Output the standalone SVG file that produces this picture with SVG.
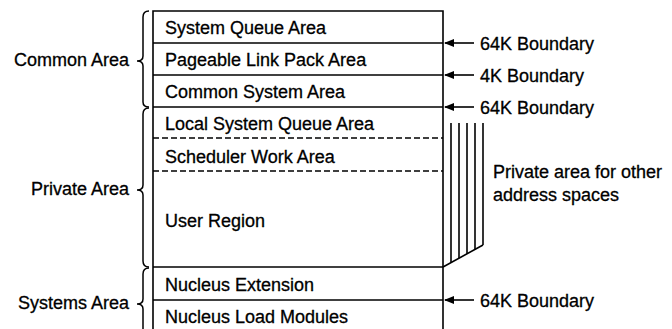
<svg xmlns="http://www.w3.org/2000/svg" width="672" height="329" viewBox="0 0 672 329">
<defs>
<style>
text{font-family:"Liberation Sans",Arial,sans-serif;font-size:18px;fill:#000;stroke:#000;stroke-width:0.3}
.ln{stroke:#000;stroke-width:1.6;fill:none}
.dash{stroke:#000;stroke-width:1.4;stroke-dasharray:6 3;fill:none}
.brace{stroke:#000;stroke-width:1.5;fill:none}
.end{text-anchor:end}
</style>
<marker id="ah" viewBox="0 0 10 8" refX="9" refY="4" markerWidth="10" markerHeight="8" markerUnits="userSpaceOnUse" orient="auto">
<path d="M0,0 L10,4 L0,8 z" fill="#000"/>
</marker>
</defs>
<rect width="672" height="329" fill="#fff"/>

<g id="box">
<path class="ln" d="M153,335 V11 H443 V335"/>
</g>
<g id="sqa"><line class="ln" x1="153" y1="43" x2="443" y2="43"/><text x="165" y="34">System Queue Area</text></g>
<g id="plpa"><line class="ln" x1="153" y1="75" x2="443" y2="75"/><text x="165" y="66">Pageable Link Pack Area</text></g>
<g id="csa"><line class="ln" x1="153" y1="107" x2="443" y2="107"/><text x="165" y="98">Common System Area</text></g>
<g id="lsqa"><line class="dash" x1="153" y1="138" x2="443" y2="138"/><text x="165" y="130">Local System Queue Area</text></g>
<g id="swa"><line class="dash" x1="153" y1="171" x2="443" y2="171"/><text x="165" y="163">Scheduler Work Area</text></g>
<g id="user"><line class="ln" x1="153" y1="267" x2="443" y2="267"/><text x="165" y="227">User Region</text></g>
<g id="nucext"><line class="ln" x1="153" y1="300" x2="443" y2="300"/><text x="165" y="291">Nucleus Extension</text></g>
<g id="nucload"><text x="165" y="323">Nucleus Load Modules</text></g>

<g id="private-stack">
<path class="ln" d="M443,267 L483,245"/>
<line class="ln" x1="451" y1="123" x2="451" y2="262.6"/>
<line class="ln" x1="459" y1="123" x2="459" y2="258.2"/>
<line class="ln" x1="467" y1="123" x2="467" y2="253.8"/>
<line class="ln" x1="475" y1="123" x2="475" y2="249.4"/>
<line class="ln" x1="483" y1="123" x2="483" y2="245"/>
<text x="493" y="178">Private area for other</text>
<text x="493" y="201">address spaces</text>
</g>

<g id="braces">
<path class="brace" d="M149,11 Q143,11 143,17 L143,56 Q143,61 137,61 Q143,61 143,66 L143,102 Q143,107 149,107"/>
<path class="brace" d="M149,108 Q143,108 143,114 L143,185 Q143,190 137,190 Q143,190 143,195 L143,261 Q143,267 149,267"/>
<path class="brace" d="M149,268 Q143,268 143,274 L143,299 Q143,304 137,304 Q143,304 143,309 L143,335"/>
<text class="end" x="129" y="66">Common Area</text>
<text class="end" x="129" y="195">Private Area</text>
<text class="end" x="129" y="309">Systems Area</text>
</g>

<g id="connectors">
<line class="ln" x1="474" y1="43" x2="445" y2="43" marker-end="url(#ah)"/>
<line class="ln" x1="474" y1="75" x2="445" y2="75" marker-end="url(#ah)"/>
<line class="ln" x1="474" y1="107" x2="445" y2="107" marker-end="url(#ah)"/>
<line class="ln" x1="474" y1="300" x2="445" y2="300" marker-end="url(#ah)"/>
</g>
<g id="boundary-labels">
<text x="480" y="50">64K Boundary</text>
<text x="480" y="82">4K Boundary</text>
<text x="480" y="114">64K Boundary</text>
<text x="480" y="307">64K Boundary</text>
</g>
</svg>
